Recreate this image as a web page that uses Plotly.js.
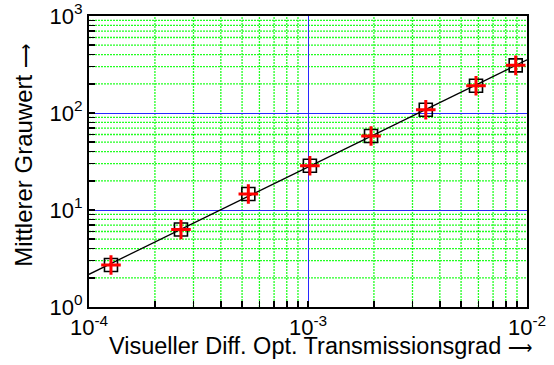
<!DOCTYPE html>
<html>
<head>
<meta charset="utf-8">
<script src="https://cdn.plot.ly/plotly-3.0.1.min.js"></script>
<style>
  html, body { margin: 0; padding: 0; background: #fff; }
  #chart { width: 554px; height: 365px; }
</style>
</head>
<body>
<div id="chart"></div>
<script>
// Measured points: transmission vs. mean grey value
const transmission = [1.26e-4, 2.63e-4, 5.34e-4, 1.02e-3, 1.94e-3, 3.45e-3, 5.85e-3, 8.88e-3];
const grauwert = [2.71, 6.3, 14.6, 28.6, 58, 108, 191, 310];

// Axis ticks
const xTickVals = [1e-4, 1e-3, 1e-2];
const xTickText = ['10<sup>-4</sup>', '10<sup>-3</sup>', '10<sup>-2</sup>'];
const yTickVals = [1, 10, 100, 1000];
const yTickText = ['10<sup>0</sup>', '10<sup>1</sup>', '10<sup>2</sup>', '10<sup>3</sup>'];

const arrow = '<span style="font-size:17px">⟶</span>';
const xTitle = 'Visueller Diff. Opt. Transmissionsgrad ' + arrow;
const yTitle = 'Mittlerer Grauwert ' + arrow;

// Minor ticks at 2..9 within each decade
function minorTicks(fromExp, toExp) {
  const out = [];
  for (let e = fromExp; e < toExp; e++) {
    for (let m = 2; m <= 9; m++) out.push(m * Math.pow(10, e));
  }
  return out;
}
const xMinor = minorTicks(-4, -2);
const yMinor = minorTicks(0, 3);

// Power-law fit (least squares in log-log space)
const lx = transmission.map(Math.log10);
const ly = grauwert.map(Math.log10);
const n = lx.length;
const mx = lx.reduce((a, b) => a + b, 0) / n;
const my = ly.reduce((a, b) => a + b, 0) / n;
let sxy = 0, sxx = 0;
for (let i = 0; i < n; i++) { sxy += (lx[i] - mx) * (ly[i] - my); sxx += (lx[i] - mx) ** 2; }
const slope = sxy / sxx;
const icpt = my - slope * mx;
const fitX = [1e-4, 1e-2];
const fitY = fitX.map(v => Math.pow(10, icpt + slope * Math.log10(v)));

const font = 'Arial, "Liberation Sans", sans-serif';

const traces = [
  { x: fitX, y: fitY, mode: 'lines', line: { color: '#000', width: 1.3 }, hoverinfo: 'skip' },
  { x: transmission, y: grauwert, mode: 'markers',
    marker: { symbol: 'square-open', size: 13, color: '#000', line: { width: 1.6, color: '#000' } } },
  { x: transmission, y: grauwert, mode: 'markers',
    marker: { symbol: 'cross-thin', size: 14, line: { width: 3, color: '#ff0000' } } }
];

// green dotted minor grid, placed in data coordinates of the log axes
const gridLine = { color: '#22ff22', width: 1.3, dash: '2px,1px' };
const shapes = [
  ...xMinor.map(v => ({ type: 'line', layer: 'below', xref: 'x', yref: 'paper',
    x0: v, x1: v, y0: 0, y1: 1, line: gridLine })),
  ...yMinor.map(v => ({ type: 'line', layer: 'below', xref: 'paper', yref: 'y',
    x0: 0, x1: 1, y0: v, y1: v, line: gridLine }))
];

const majorFont = { family: font, size: 22, color: '#000' };
const axisBase = {
  type: 'log', tickmode: 'array', ticklabeloverflow: 'allow',
  ticks: 'inside', ticklen: 6, tickwidth: 1.5, tickcolor: '#000',
  minor: { ticks: 'inside', ticklen: 6, tickwidth: 1.5, tickcolor: '#000', showgrid: false },
  showgrid: true, gridcolor: '#2828ff', gridwidth: 1,
  showline: true, linecolor: '#000', linewidth: 2, mirror: true,
  zeroline: false, tickfont: majorFont
};

const layout = {
  width: 554, height: 365,
  margin: { l: 89, r: 27, t: 16, b: 58 },
  paper_bgcolor: '#fff', plot_bgcolor: '#fff',
  showlegend: false,
  font: { family: font, color: '#000' },
  xaxis: Object.assign({}, axisBase, {
    range: [-4, -2], tickvals: xTickVals, ticktext: xTickText,
    minor: Object.assign({}, axisBase.minor, { tickmode: 'array', tickvals: xMinor })
  }),
  yaxis: Object.assign({}, axisBase, {
    range: [0, 3], tickvals: yTickVals, ticktext: yTickText,
    minor: Object.assign({}, axisBase.minor, { tickmode: 'array', tickvals: yMinor })
  }),
  shapes: shapes,
  annotations: [
    { text: xTitle, xref: 'paper', yref: 'paper', x: 0.04, y: -0.133, xanchor: 'left', yanchor: 'middle',
      showarrow: false, font: { family: font, size: 23.5, color: '#000' } },
    { text: yTitle, xref: 'paper', yref: 'paper', x: -0.148, y: 0.52, xanchor: 'center', yanchor: 'middle',
      textangle: -90, showarrow: false, font: { family: font, size: 24, color: '#000' } }
  ]
};

Plotly.newPlot('chart', traces, layout, { staticPlot: true, displayModeBar: false });
</script>
</body>
</html>
